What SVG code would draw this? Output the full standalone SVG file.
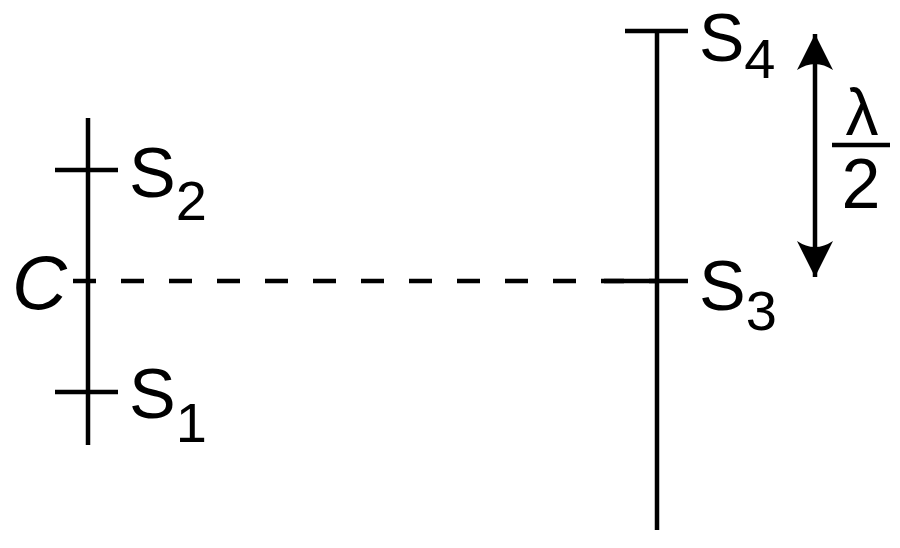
<svg xmlns="http://www.w3.org/2000/svg" width="900" height="548" viewBox="0 0 900 548">
<style>
.ln{stroke:#000;stroke-width:4.5;fill:none}
.t{font-family:"Liberation Sans",Arial,sans-serif;fill:#000}
.m{font-size:70px}
.s{font-size:56px}
</style>
<defs>
<marker id="ah" viewBox="0 0 36 38" refX="36" refY="18" markerWidth="36" markerHeight="38" markerUnits="userSpaceOnUse" orient="auto">
<path d="M0,0 Q12,18 0,36 L36,18 Z" fill="#000"/>
</marker>
</defs>
<rect width="900" height="548" fill="#fff"/>
<g id="left-slit">
<line class="ln" x1="88" y1="118" x2="88" y2="445"/>
<line class="ln" x1="55" y1="170" x2="118" y2="170"/>
<line class="ln" x1="55" y1="392" x2="118" y2="392"/>
</g>
<g id="right-screen">
<line class="ln" x1="657" y1="31" x2="657" y2="530"/>
<line class="ln" x1="625" y1="31" x2="688" y2="31"/>
<line class="ln" x1="604" y1="281" x2="688" y2="281"/>
</g>
<g id="connectors">
<line class="ln" x1="73" y1="281" x2="657" y2="281" stroke-dasharray="23 25"/>
<line class="ln" x1="815" y1="150" x2="815" y2="34" marker-end="url(#ah)"/>
<line class="ln" x1="815" y1="150" x2="815" y2="277" marker-end="url(#ah)"/>
<line class="ln" x1="832" y1="145" x2="890" y2="145"/>
</g>
<g id="labels">
<text class="t" x="12" y="309" font-size="76" font-style="italic">C</text>
<text class="t m" x="129" y="197">S<tspan class="s" y="220">2</tspan></text>
<text class="t m" x="129" y="418">S<tspan class="s" y="442">1</tspan></text>
<text class="t" x="699" y="61" font-size="68">S<tspan class="s" y="78">4</tspan></text>
<text class="t m" x="699" y="310">S<tspan class="s" y="330">3</tspan></text>
<text class="t" x="862" y="135" font-size="66" text-anchor="middle" font-family="Liberation Serif,serif">λ</text>
<text class="t m" x="861" y="208" text-anchor="middle">2</text>
</g>
</svg>
